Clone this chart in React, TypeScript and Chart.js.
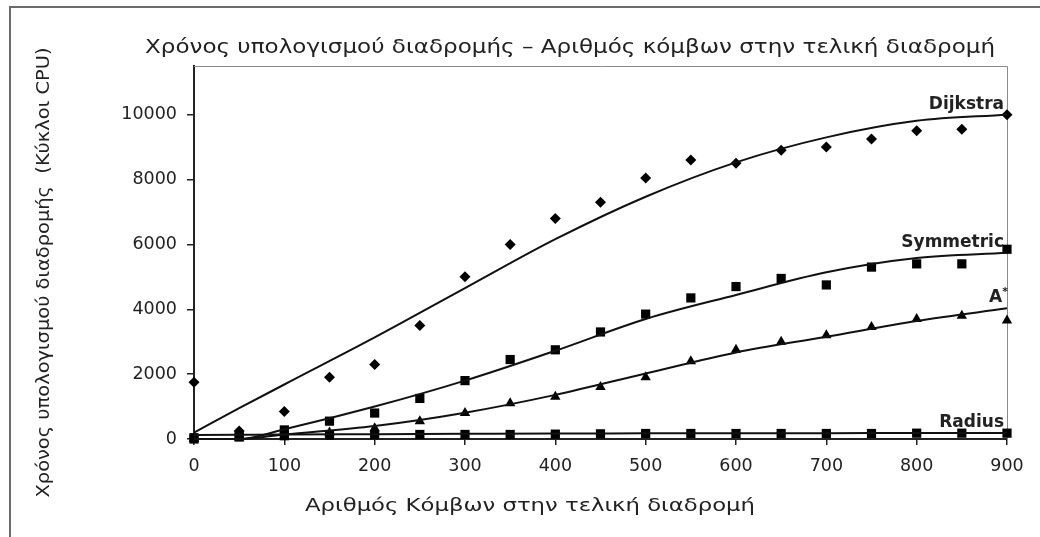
import React, { useEffect, useRef } from "react";
import { Chart, registerables } from "chart.js";

Chart.register(...registerables);

// ---- data ----
const nodeCounts = [0, 50, 100, 150, 200, 250, 300, 350, 400, 450, 500, 550, 600, 650, 700, 750, 800, 850, 900];
const dijkstraTimes = [1750, 250, 850, 1900, 2300, 3500, 5000, 6000, 6800, 7300, 8050, 8600, 8500, 8900, 9000, 9250, 9500, 9550, 10000];
const symmetricTimes = [0, 100, 280, 550, 800, 1250, 1800, 2450, 2750, 3300, 3850, 4350, 4700, 4950, 4750, 5300, 5400, 5400, 5850];
const aStarTimes = [0, 50, 100, 200, 330, 550, 800, 1100, 1300, 1600, 1900, 2400, 2750, 3000, 3200, 3450, 3700, 3800, 3650];
const radiusTimes = [40, 60, 100, 120, 130, 140, 140, 140, 150, 160, 170, 170, 170, 170, 170, 170, 180, 180, 180];

// trend curves
const trendNodes = [0, 50, 100, 200, 300, 400, 500, 600, 700, 800, 900];
const dijkstraTrend = [200, 950, 1680, 3130, 4650, 6160, 7470, 8530, 9300, 9810, 10000];
const symmetricTrend = [0, 0, 300, 1000, 1800, 2720, 3700, 4440, 5140, 5580, 5740];
const aStarTrend = [0, 0, 140, 400, 810, 1360, 2020, 2670, 3150, 3640, 4030];
const radiusTrend = [120, 130, 140, 150, 160, 170, 175, 180, 180, 185, 185];

const seriesNames = ["Dijkstra", "Symmetric", "A*", "Radius"];
const xTickValues = [0, 100, 200, 300, 400, 500, 600, 700, 800, 900];
const yTickValues = [0, 2000, 4000, 6000, 8000, 10000];

const chartTitle = "Χρόνος υπολογισμού διαδρομής – Αριθμός κόμβων στην τελική διαδρομή";
const xAxisTitle = "Αριθμός Κόμβων στην τελική διαδρομή";
const yAxisTitle = "Χρόνος υπολογισμού διαδρομής  (Κύκλοι CPU)";

const FONT = "'DejaVu Sans', 'Liberation Sans', Arial, sans-serif";
const TEXT = "#222";

const toPts = (xs: number[], ys: number[]) => xs.map((x, i) => ({ x, y: ys[i] }));

// draws centred text stretched horizontally to a given width
function fitText(ctx: CanvasRenderingContext2D, text: string, cx: number, y: number, targetWidth: number) {
  const w = ctx.measureText(text).width;
  const s = targetWidth / w;
  ctx.save();
  ctx.translate(cx, y);
  ctx.scale(s, 1);
  ctx.textAlign = "center";
  ctx.fillText(text, 0, 0);
  ctx.restore();
}

const decorPlugin = {
  id: "decor",
  beforeDraw(chart: any) {
    const { ctx, width, height } = chart;
    ctx.save();
    ctx.fillStyle = "#fff";
    ctx.fillRect(0, 0, width, height);
    // outer frame (partly cut off)
    ctx.strokeStyle = "#6a6a6a";
    ctx.lineWidth = 2;
    ctx.beginPath();
    ctx.moveTo(10, height);
    ctx.lineTo(10, 7);
    ctx.lineTo(width, 7);
    ctx.stroke();
    ctx.restore();
  },
  beforeDatasetsDraw(chart: any) {
    const { ctx, chartArea: a } = chart;
    ctx.save();
    ctx.strokeStyle = "#8a8a8a";
    ctx.lineWidth = 1;
    ctx.beginPath();
    ctx.moveTo(a.left, a.top + 0.5);
    ctx.lineTo(a.right + 0.5, a.top + 0.5);
    ctx.lineTo(a.right + 0.5, a.bottom);
    ctx.stroke();
    ctx.restore();
  },
  afterDraw(chart: any) {
    const { ctx, chartArea: a } = chart;
    ctx.save();
    ctx.fillStyle = TEXT;
    ctx.textBaseline = "alphabetic";
    // main title
    ctx.font = `19px ${FONT}`;
    fitText(ctx, chartTitle, 570, 53, 850);
    // x axis title
    ctx.font = `18px ${FONT}`;
    fitText(ctx, xAxisTitle, 530, 511, 450);
    // y axis title
    ctx.save();
    ctx.translate(49, (a.top + a.bottom) / 2 + 20);
    ctx.rotate(-Math.PI / 2);
    ctx.font = `18px ${FONT}`;
    fitText(ctx, yAxisTitle, 0, 0, 450);
    ctx.restore();
    // end labels on trend curves
    chart.data.datasets.forEach((ds: any, i: number) => {
      if (!ds.endLabel) return;
      const meta = chart.getDatasetMeta(i);
      const last = meta.data[meta.data.length - 1];
      const x = last.x - 3;
      const y = last.y - 6;
      ctx.textAlign = "right";
      if (ds.endLabel.endsWith("*")) {
        const base = ds.endLabel.slice(0, -1);
        ctx.font = `bold 11px ${FONT}`;
        const w = ctx.measureText("*").width;
        ctx.fillText("*", x + 4, y - 7);
        ctx.font = `bold 17px ${FONT}`;
        ctx.fillText(base, x + 4 - w, y);
      } else {
        ctx.font = `bold 17px ${FONT}`;
        ctx.fillText(ds.endLabel, x, y);
      }
    });
    ctx.restore();
  },
};

export default function App() {
  const ref = useRef<HTMLCanvasElement | null>(null);

  useEffect(() => {
    document.body.style.margin = "0";
    const canvas = ref.current;
    if (!canvas) return;

    const markerSet = (data: number[], style: string, radius: number) => ({
      type: "scatter",
      data: toPts(nodeCounts, data),
      showLine: false,
      pointStyle: style,
      pointRadius: radius,
      pointBackgroundColor: "#000",
      pointBorderColor: "#000",
      pointBorderWidth: 0,
      clip: false,
    });
    const trendSet = (data: number[], label: string) => ({
      type: "line",
      data: toPts(trendNodes, data),
      showLine: true,
      borderColor: "#111",
      borderWidth: 2,
      pointRadius: 0,
      cubicInterpolationMode: "monotone",
      fill: false,
      clip: false,
      endLabel: label,
    });

    const chart = new Chart(canvas, {
      type: "scatter",
      data: {
        datasets: [
          trendSet(radiusTrend, seriesNames[3]),
          trendSet(aStarTrend, seriesNames[2]),
          trendSet(symmetricTrend, seriesNames[1]),
          trendSet(dijkstraTrend, seriesNames[0]),
          markerSet(radiusTimes, "rect", 6.5),
          markerSet(aStarTimes, "triangle", 6),
          markerSet(symmetricTimes, "rect", 6.5),
          markerSet(dijkstraTimes, "rectRot", 5.5),
        ] as any,
      },
      options: {
        animation: false,
        responsive: false,
        events: [],
        layout: { padding: { top: 66, right: 33, left: 0, bottom: 0 } },
        plugins: { legend: { display: false }, tooltip: { enabled: false }, title: { display: false } },
        scales: {
          x: {
            type: "linear",
            min: 0,
            max: 900,
            afterFit: (s: any) => { s.height = 98; },
            afterBuildTicks: (s: any) => { s.ticks = xTickValues.map((v) => ({ value: v })); },
            border: { color: "#222", width: 2 },
            grid: { drawOnChartArea: false, drawTicks: true, tickLength: 6, color: "#222", lineWidth: 1.5 },
            ticks: { color: TEXT, font: { family: FONT, size: 17.5 }, padding: 11, maxRotation: 0, callback: (v: any) => String(v) },
          },
          y: {
            type: "linear",
            min: 0,
            max: 11500,
            afterFit: (s: any) => { s.width = 194; },
            afterBuildTicks: (s: any) => { s.ticks = yTickValues.map((v) => ({ value: v })); },
            border: { color: "#222", width: 2 },
            grid: { drawOnChartArea: false, drawTicks: true, tickLength: 7, color: "#222", lineWidth: 1.5 },
            ticks: { color: TEXT, font: { family: FONT, size: 17.5 }, padding: 10, callback: (v: any) => String(v) },
          },
        },
      },
      plugins: [decorPlugin],
    } as any);

    return () => chart.destroy();
  }, []);

  return (
    <div style={{ width: 1040, height: 537 }}>
      <canvas ref={ref} width={1040} height={537} style={{ display: "block", width: 1040, height: 537 }} />
    </div>
  );
}
